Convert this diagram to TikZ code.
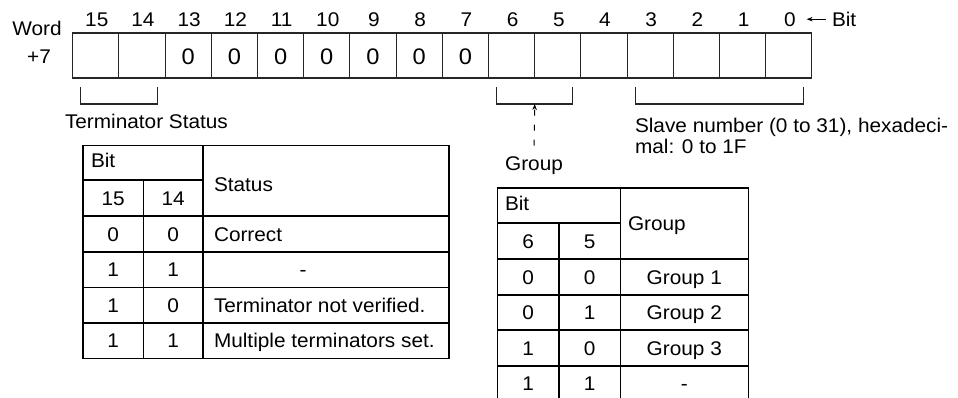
\documentclass[tikz,border=0pt]{standalone}
\usepackage{fontspec}
\setmainfont{Liberation Sans}[FakeStretch=1.05]
\usepackage{tikz}
\usetikzlibrary{positioning,arrows.meta}

\begin{document}
\begin{tikzpicture}[
  x=1pt, y=-1pt,
  font=\fontsize{19.8}{22}\selectfont,
  every node/.style={inner sep=0pt, outer sep=0pt},
  cell/.style  ={rectangle, draw=black!85, line width=1.1pt,
                 minimum width=46.2pt, minimum height=45pt},
  num/.style   ={anchor=base},
  zero/.style  ={anchor=base, font=\fontsize{22.5}{24}\selectfont},
  lbl/.style   ={anchor=base west},
  brace/.style ={draw=black!85, line width=1.1pt},
  grid/.style  ={draw=black, line width=1.6pt},
  ptr/.style   ={-{Stealth[length=6pt,width=4.5pt]}, line width=1pt},
]
\useasboundingbox (0,0) rectangle (958,398);

% Word +7 register, bit 15 on the left
\foreach \b [count=\i from 0] in {15,14,...,0} {
  \node[cell] (b\b) at ({95.8+46.2*\i},55.5) {};
  \node[num]  (n\b) at ({96.8+46.2*\i},26.3) {\b};
}
\foreach \b in {13,...,7}
  \node[zero] (z\b) at ([yshift=-9.5pt]b\b.center) {0};

\node[num] (word)  at (37,35.5) {Word};
\node[num] (plus7) at (39,63.5) {+7};

\node[lbl] (bitlbl) at (832,26.3) {Bit};
\draw[ptr] ([xshift=-6pt]bitlbl.west) -- ([xshift=11pt]n0.east |- bitlbl.west);

% Brackets under the register
\draw[brace] ([xshift=8pt,yshift=-9pt]b15.south west) -- ++(0,17)
   -| ([xshift=-8pt,yshift=-9pt]b14.south east);
\draw[brace] ([xshift=8pt,yshift=-9pt]b6.south west) -- ++(0,17)
   -| ([xshift=-8pt,yshift=-9pt]b5.south east);
\draw[brace] ([xshift=8pt,yshift=-9pt]b3.south west) -- ++(0,17)
   -| ([xshift=-8pt,yshift=-9pt]b0.south east);
\coordinate (grptip) at ([yshift=-26pt]b6.south east);

\node[lbl] (termlbl) at (65,128.5) {Terminator Status};
\node[lbl] (slave1)  at (635,132.5) {Slave number (0 to 31), hexadeci-};
\node[lbl] (slave2)  at (635,154) {mal: 0 to 1F};
\node[num] (grplbl)  at (534,170.5) {Group};
\draw[ptr, dash pattern=on 6pt off 9pt] ([yshift=11pt]grplbl.north) -- (grptip);

% Terminator status table
\draw[grid] (82.7,145.7) rectangle (448.7,358.3);
\draw[grid] (82.7,180) -- (202.7,180);
\foreach \y in {216,251.7,287.3,322.7}
  \draw[grid] (82.7,\y) -- (448.7,\y);
\draw[grid] (143.5,180) -- (143.5,358.3);
\draw[grid] (202.7,145.7) -- (202.7,358.3);

\node[lbl] (tbit)  at (91,168) {Bit};
\node[lbl] (tstat) at (214,191.5) {Status};
\node[num] (t15)   at (113.1,205) {15};
\node[num] (t14)   at (173.1,205) {14};
\foreach \a/\c [count=\r from 0] in {0/0,1/1,1/0,1/1} {
  \node[num] (ta\r) at (113.1,{241+35.55*(\r)}) {\a};
  \node[num] (tc\r) at (173.1,{241+35.55*(\r)}) {\c};
}
\node[lbl] (ts0) at (214,241) {Correct};
\node[num] (ts1) at (303,276.5) {-};
\node[lbl] (ts2) at (214,312.1) {Terminator not verified.};
\node[lbl] (ts3) at (214,347.6) {Multiple terminators set.};

% Group table
\draw[grid] (497.3,401) -- (497.3,188.3) -- (748.3,188.3) -- (748.3,401);
\draw[grid] (497.3,222.7) -- (620.3,222.7);
\foreach \y in {259,294.7,330,365.7}
  \draw[grid] (497.3,\y) -- (748.3,\y);
\draw[grid] (559,222.7) -- (559,401);
\draw[grid] (620.3,188.3) -- (620.3,401);

\node[lbl] (gbit) at (505,211) {Bit};
\node[lbl] (ggrp) at (628,230.5) {Group};
\node[num] (g6)   at (528.2,248) {6};
\node[num] (g5)   at (589.7,248) {5};
\foreach \a/\c [count=\r from 0] in {0/0,0/1,1/0,1/1} {
  \node[num] (ga\r) at (528.2,{284+35.55*(\r)}) {\a};
  \node[num] (gc\r) at (589.7,{284+35.55*(\r)}) {\c};
}
\node[num] (gg0) at (684.3,284) {Group 1};
\node[num] (gg1) at (684.3,319.5) {Group 2};
\node[num] (gg2) at (684.3,355.1) {Group 3};
\node[num] (gg3) at (684.3,390.6) {-};

\end{tikzpicture}
\end{document}
